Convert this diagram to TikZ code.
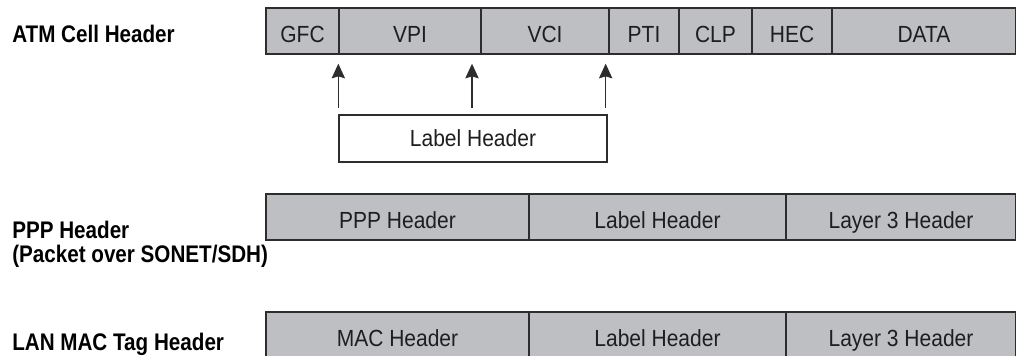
\documentclass[tikz,border=0pt]{standalone}
\usepackage{xcolor}
\usepackage{fontspec}
\setmainfont{Liberation Sans}[FakeStretch=0.9,BoldFeatures={FakeStretch=0.86}]
\usetikzlibrary{arrows.meta}

\definecolor{cellgray}{RGB}{190,191,195}
\definecolor{edgegray}{RGB}{45,45,45}
\definecolor{inkgray}{RGB}{30,30,30}

\begin{document}
\begin{tikzpicture}[x=0.75pt,y=0.75pt,yscale=-1,xscale=1,
  cell/.style={draw=edgegray,line width=1pt,fill=cellgray,text=inkgray,
    minimum height=34.5pt,inner sep=0pt,text height=17pt,text depth=0pt,
    font=\fontsize{17.5}{20}\selectfont},
  lblbox/.style={draw=edgegray,line width=1pt,fill=white,text=inkgray,
    minimum width=201pt,minimum height=35.25pt,inner sep=0pt,
    text height=12.4pt,text depth=0pt,font=\fontsize{17.5}{20}\selectfont},
  rowname/.style={inner sep=0pt,align=left,text=black,
    font=\fontsize{18}{18}\selectfont\bfseries},
  uparrow/.style={draw=edgegray,line width=1pt,-{Stealth[length=11pt,width=10pt,inset=1.5pt]},
    shorten <=4.5pt,shorten >=6.75pt}]
\useasboundingbox (0,0) rectangle (1016,355);

% Text Node
\node[rowname,anchor=base west] (atmname) at (12,42) {ATM Cell Header};
% Text Node
\node[rowname,anchor=north west] (pppname) at (12,221) {PPP Header\\(Packet over SONET/SDH)};
% Text Node
\node[rowname,anchor=base west] (lanname) at (12,350) {LAN MAC Tag Header};

%Shape: Rectangle -- ATM cell
\node[cell,minimum width=54.75pt] (gfc) at (302.5,31) {GFC};
\node[cell,minimum width=106.5pt] (vpi) at (410,31) {VPI};
\node[cell,minimum width=96pt] (vci) at (545,31) {VCI};
\node[cell,minimum width=52.5pt] (pti) at (644,31) {PTI};
\node[cell,minimum width=54.75pt] (clp) at (715.5,31) {CLP};
\node[cell,minimum width=60pt] (hec) at (792,31) {HEC};
\node[cell,minimum width=138pt] (data) at (924,31) {DATA};

%Shape: Rectangle -- label below the ATM cell
\node[lblbox] (atmlabel) at (473,138.5) {Label Header};

%Straight Lines [id:arrows]
\draw[uparrow] (atmlabel.north west) -- (atmlabel.north west |- gfc.south);
\draw[uparrow] ([xshift=-0.75pt]atmlabel.north) -- ([xshift=-0.75pt]atmlabel.north |- vpi.south);
\draw[uparrow] ([xshift=-1.5pt]atmlabel.north east) -- ([xshift=-1.5pt]atmlabel.north east |- vci.south);

%Shape: Rectangle -- PPP frame
\node[cell,minimum width=197.25pt] (ppphdr) at (397.5,217) {PPP Header};
\node[cell,minimum width=192.75pt] (ppplabel) at (657.5,217) {Label Header};
\node[cell,minimum width=172.5pt] (ppplayer) at (901,217) {Layer 3 Header};

%Shape: Rectangle -- LAN MAC frame
\node[cell,minimum width=197.25pt] (machdr) at (397.5,335) {MAC Header};
\node[cell,minimum width=192.75pt] (maclabel) at (657.5,335) {Label Header};
\node[cell,minimum width=172.5pt] (maclayer) at (901,335) {Layer 3 Header};

\end{tikzpicture}
\end{document}
